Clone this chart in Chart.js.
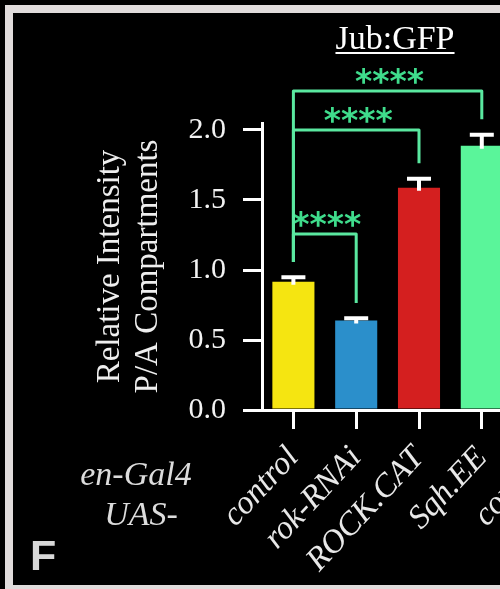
<!DOCTYPE html>
<html>
<head>
<meta charset="utf-8">
<script src="https://cdn.jsdelivr.net/npm/chart.js@4.4.1/dist/chart.umd.min.js"></script>
<style>
  html, body { margin: 0; padding: 0; background: #000; width: 500px; height: 589px; overflow: hidden; }
  #frame { position: absolute; left: 5px; top: 5px; width: 620px; height: 572px; border: 8px solid #e0dcdc; border-right: none; }
  #chart { position: absolute; left: 0; top: 0; }
  .lbl { position: absolute; width: 200px; text-align: center; color: #dcdcdc; font-family: "Liberation Serif"; font-style: italic; font-size: 34px; line-height: 1; white-space: nowrap; }
  #title { position: absolute; left: 295px; top: 21px; width: 200px; text-align: center; color: #fff; font-family: "Liberation Serif"; font-size: 34px; line-height: 1; }
  #title span { text-decoration: underline; text-decoration-thickness: 2px; text-underline-offset: 3px; }
  #panel { position: absolute; left: 30px; top: 534px; color: #d8d8d8; font-family: "Liberation Sans"; font-weight: bold; font-size: 43px; line-height: 1; }
</style>
</head>
<body>
<div id="frame"></div>
<canvas id="chart" width="600" height="589"></canvas>
<div id="title"><span>Jub:GFP</span></div>
<div class="lbl" style="left:36px; top:457px;">en-Gal4</div>
<div class="lbl" style="left:41px; top:497px;">UAS-</div>
<div id="panel">F</div>

<script>
// values (last group is cut off on the right edge)
const categories = ["control", "rok-RNAi", "ROCK.CAT", "Sqh.EE", "control"];
const means = [0.916, 0.640, 1.588, 1.888, null];
const sems = [0.032, 0.015, 0.064, 0.078, null];
const barColors = ["#f5e511", "#2b8fcb", "#d41f1f", "#5af59a", "#5af59a"];
const yTicks = [0, 0.5, 1.0, 1.5, 2.0];

// significance brackets: from group, to group, height of the bar line
const bracketFrom = [0, 0, 0];
const bracketTo = [1, 2, 3];
const bracketLevel = [1.257, 2.0, 2.279];
const bracketText = ["****", "****", "****"];

const errorBars = {
  id: "errorBars",
  afterDatasetsDraw(chart) {
    const { ctx, scales: { x, y } } = chart;
    ctx.save();
    ctx.strokeStyle = "#fff";
    ctx.lineWidth = 4;
    means.forEach((m, i) => {
      if (m == null) return;
      const px = x.getPixelForValue(i);
      const y0 = y.getPixelForValue(m);
      const y1 = y.getPixelForValue(m + sems[i]);
      ctx.beginPath();
      ctx.moveTo(px, y0 + 3);
      ctx.lineTo(px, y1);
      ctx.moveTo(px - 12, y1);
      ctx.lineTo(px + 12, y1);
      ctx.stroke();
    });
    ctx.restore();
  }
};

const brackets = {
  id: "brackets",
  afterDraw(chart) {
    const { ctx, scales: { x, y } } = chart;
    const gap = 0.11;
    ctx.save();
    ctx.strokeStyle = "#5ae8a0";
    ctx.lineWidth = 3;
    ctx.lineJoin = "round";
    ctx.fillStyle = "#3fdc8c";
    ctx.font = "bold 33px 'DejaVu Sans'";
    ctx.textAlign = "center";
    ctx.textBaseline = "alphabetic";
    bracketFrom.forEach((a, k) => {
      const b = bracketTo[k];
      const xa = x.getPixelForValue(a);
      const xb = x.getPixelForValue(b);
      const yl = y.getPixelForValue(bracketLevel[k]);
      const ya = y.getPixelForValue(means[a] + sems[a] + gap);
      const yb = y.getPixelForValue(means[b] + sems[b] + gap);
      ctx.beginPath();
      ctx.moveTo(xa, ya);
      ctx.lineTo(xa, yl);
      ctx.lineTo(xb, yl);
      ctx.lineTo(xb, yb);
      ctx.stroke();
      // centre the glyphs about 15px above the bracket line
      const m = ctx.measureText(bracketText[k]);
      const mid = (m.actualBoundingBoxAscent - m.actualBoundingBoxDescent) / 2;
      ctx.fillText(bracketText[k], (xa + xb) / 2 + 2, yl - 15 + mid);
    });
    ctx.restore();
  }
};

new Chart(document.getElementById("chart"), {
  type: "bar",
  data: {
    labels: categories,
    datasets: [{
      data: means,
      backgroundColor: barColors,
      borderWidth: 0,
      barPercentage: 0.67,
      categoryPercentage: 1.0
    }]
  },
  options: {
    responsive: false,
    animation: false,
    devicePixelRatio: 1,
    layout: { padding: { top: 123, left: 0, right: 24, bottom: 0 } },
    plugins: {
      legend: { display: false },
      tooltip: { enabled: false }
    },
    scales: {
      x: {
        offset: true,
        afterFit: (s) => { s.height = 179; },
        border: { display: true, color: "#fff", width: 3 },
        grid: { display: true, offset: false, drawOnChartArea: false, drawTicks: true, tickLength: 19, color: "#fff", lineWidth: 3 },
        ticks: {
          autoSkip: false,
          minRotation: 47,
          maxRotation: 47,
          padding: 10,
          color: "#e8e8e8",
          font: { family: "Liberation Serif", size: 33, style: "italic" }
        }
      },
      y: {
        min: 0,
        max: 2.05,
        afterFit: (s) => { s.width = 262; },
        afterBuildTicks: (s) => { s.ticks = yTicks.map((v) => ({ value: v })); },
        border: { display: true, color: "#fff", width: 3 },
        grid: { display: true, drawOnChartArea: false, drawTicks: true, tickLength: 19, color: "#fff", lineWidth: 3 },
        ticks: {
          padding: 17,
          color: "#f2f2f2",
          font: { family: "Liberation Serif", size: 30 },
          callback: (v) => Number(v).toFixed(1)
        },
        title: {
          display: true,
          text: ["Relative Intensity", "P/A Compartments"],
          color: "#eeeeee",
          font: { family: "Liberation Serif", size: 33, lineHeight: 1.15 },
          padding: { top: 91, bottom: 0 }
        }
      }
    }
  },
  plugins: [errorBars, brackets]
});
</script>
</body>
</html>
